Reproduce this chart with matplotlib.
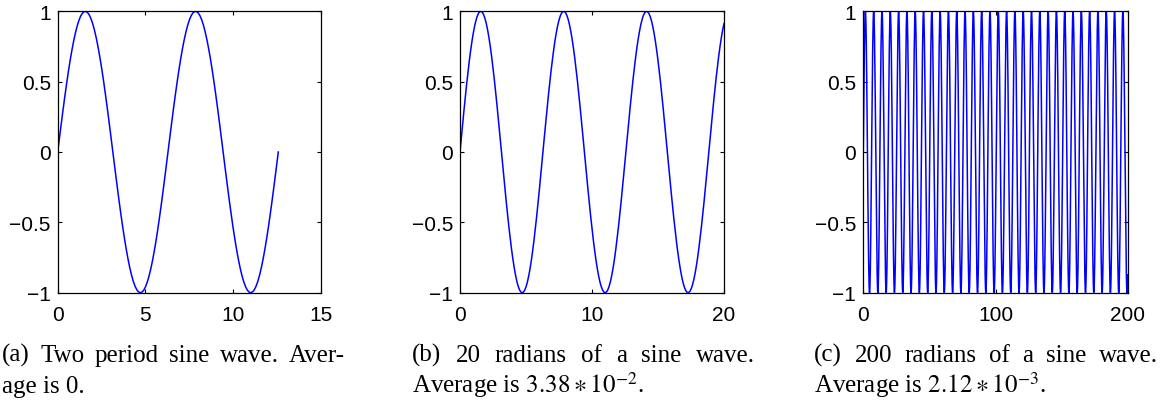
import numpy as np
from matplotlib import pyplot as plt

plt.rcParams['font.family'] = ['Liberation Sans', 'DejaVu Sans']
plt.rcParams['mathtext.fontset'] = 'stix'

# x range (radians) and sampling step of each panel
x_ends = [4 * np.pi, 20, 200]
x_steps = [0.1, 0.1, 0.1]
x_limits = [(0, 15), (0, 20), (0, 200)]
x_ticks = [[0, 5, 10, 15], [0, 10, 20], [0, 100, 200]]
y_ticks = [-1, -0.5, 0, 0.5, 1]
y_tick_labels = ['\u22121', '\u22120.5', '0', '0.5', '1']

captions = [
    ["(a) Two period sine wave. Aver-", "age is 0."],
    ["(b) 20 radians of a sine wave.", r"Average is $3.38 \ast 10^{-2}$."],
    ["(c) 200 radians of a sine wave.", r"Average is $2.12 \ast 10^{-3}$."],
]

W, H = 1171, 402
fig = plt.figure(figsize=(W / 100, H / 100), dpi=100)
renderer = fig.canvas.get_renderer()

# axes boxes in pixels: left, right
boxes = [(57.7, 321), (460, 724), (863.3, 1127.7)]
top, bottom = 12.3, 293.7
# caption columns in pixels: left, right
columns = [(2, 345), (412, 755), (814, 1158)]
line_y = [361.7, 392.7]
cap_font = dict(family='Liberation Serif', fontsize=18, va='baseline')


def justified(words, x0, x1, y):
    # lay the words out so the line fills the column from x0 to x1
    texts = [fig.text(0, 1 - y / H, w, **cap_font) for w in words]
    widths = [t.get_window_extent(renderer).width for t in texts]
    gap = (x1 - x0 - sum(widths)) / (len(words) - 1)
    x = x0
    for t, w in zip(texts, widths):
        t.set_x(x / W)
        x += w + gap


for i in range(3):
    l, r = boxes[i]
    ax = fig.add_axes([l / W, 1 - bottom / H, (r - l) / W, (bottom - top) / H])
    x = np.arange(0, x_ends[i] + 1e-9, x_steps[i])
    if x[-1] < x_ends[i]:
        x = np.append(x, x_ends[i])
    ax.plot(x, np.sin(x), color='#0000ff', lw=1.1)
    ax.set_xlim(*x_limits[i])
    ax.set_ylim(-1, 1)
    ax.set_xticks(x_ticks[i])
    ax.set_yticks(y_ticks)
    ax.set_yticklabels(y_tick_labels)
    ax.tick_params(direction='in', top=True, right=True, length=3,
                   width=0.8, labelsize=15)
    ax.tick_params(axis='x', pad=9)
    ax.tick_params(axis='y', pad=5)
    for s in ax.spines.values():
        s.set_linewidth(0.9)

    c0, c1 = columns[i]
    justified(captions[i][0].split(' '), c0, c1, line_y[0])
    fig.text(c0 / W, 1 - line_y[1] / H, captions[i][1], **cap_font)

fig.savefig('out.png', dpi=100)
